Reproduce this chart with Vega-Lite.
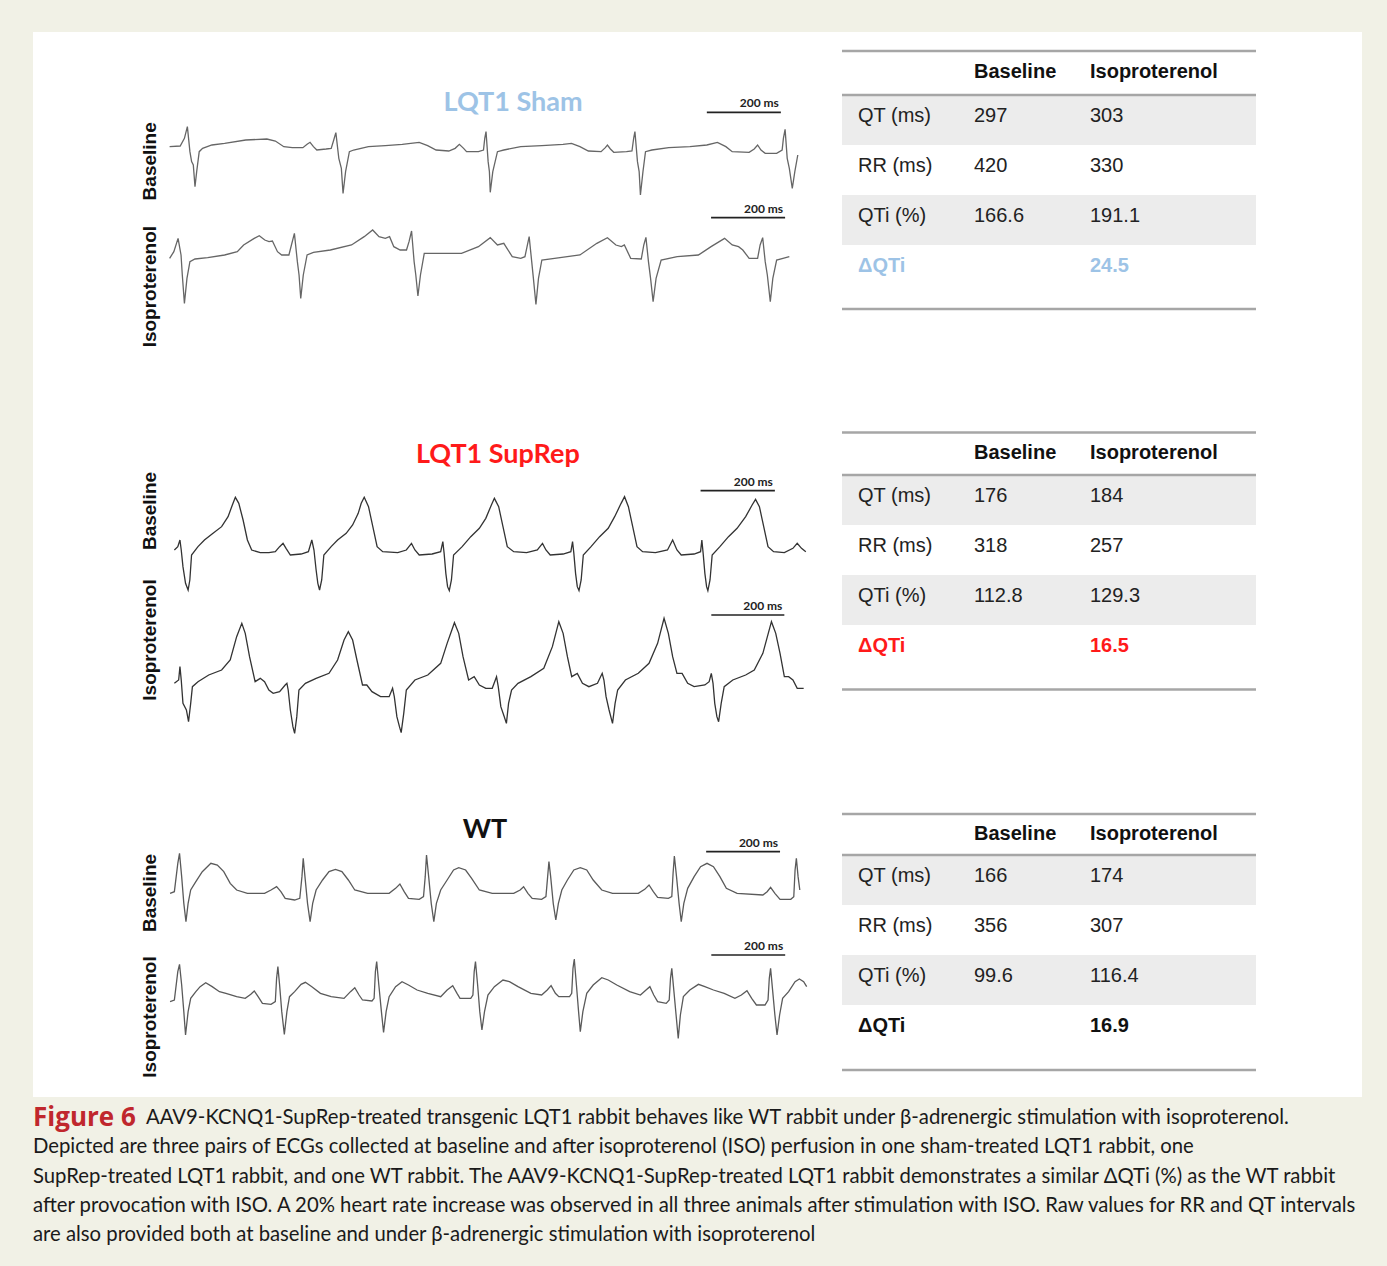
{
"$schema": "https://vega.github.io/schema/vega-lite/v6.json",
"width": 1329, "height": 1065,
"autosize": {"type": "none"},
"padding": {"left": 33, "top": 32, "right": 25, "bottom": 169},
"background": "#f1f1e6",
"config": {"view": {"fill": "#ffffff", "stroke": null}},
"datasets": {
"sham_baseline": [{"t":70,"v":0},{"t":95,"v":2},{"t":105,"v":25},{"t":112,"v":60},{"t":118,"v":-15},{"t":122,"v":-45},{"t":126,"v":-55},{"t":130,"v":-120},{"t":134,"v":-75},{"t":140,"v":-15},{"t":148,"v":-5},{"t":170,"v":5},{"t":200,"v":10},{"t":250,"v":20},{"t":300,"v":23},{"t":320,"v":17},{"t":340,"v":0},{"t":360,"v":-3},{"t":385,"v":-3},{"t":395,"v":7},{"t":402,"v":13},{"t":410,"v":0},{"t":418,"v":-10},{"t":440,"v":-7},{"t":452,"v":-5},{"t":458,"v":20},{"t":463,"v":42},{"t":470,"v":-35},{"t":476,"v":-65},{"t":480,"v":-140},{"t":486,"v":-75},{"t":495,"v":-15},{"t":505,"v":-10},{"t":540,"v":0},{"t":580,"v":3},{"t":620,"v":7},{"t":660,"v":13},{"t":680,"v":3},{"t":700,"v":-10},{"t":730,"v":-13},{"t":745,"v":-5},{"t":755,"v":7},{"t":765,"v":-5},{"t":772,"v":-15},{"t":800,"v":-15},{"t":812,"v":-10},{"t":815,"v":25},{"t":818,"v":45},{"t":823,"v":-45},{"t":826,"v":-75},{"t":828,"v":-137},{"t":834,"v":-75},{"t":845,"v":-15},{"t":860,"v":-10},{"t":900,"v":0},{"t":950,"v":3},{"t":1000,"v":7},{"t":1020,"v":10},{"t":1040,"v":0},{"t":1060,"v":-13},{"t":1090,"v":-15},{"t":1100,"v":-3},{"t":1105,"v":5},{"t":1112,"v":-7},{"t":1120,"v":-17},{"t":1150,"v":-15},{"t":1163,"v":-13},{"t":1167,"v":25},{"t":1170,"v":45},{"t":1176,"v":-45},{"t":1180,"v":-75},{"t":1183,"v":-145},{"t":1189,"v":-75},{"t":1195,"v":-15},{"t":1210,"v":-10},{"t":1250,"v":-3},{"t":1300,"v":0},{"t":1340,"v":5},{"t":1365,"v":13},{"t":1385,"v":0},{"t":1400,"v":-15},{"t":1440,"v":-17},{"t":1452,"v":-7},{"t":1460,"v":5},{"t":1468,"v":-10},{"t":1478,"v":-20},{"t":1505,"v":-20},{"t":1518,"v":-10},{"t":1521,"v":25},{"t":1525,"v":52},{"t":1530,"v":-35},{"t":1535,"v":-65},{"t":1542,"v":-125},{"t":1548,"v":-75},{"t":1555,"v":-25}],
"sham_iso": [{"t":70,"v":0},{"t":80,"v":20},{"t":90,"v":60},{"t":97,"v":10},{"t":100,"v":-50},{"t":105,"v":-135},{"t":111,"v":-60},{"t":118,"v":-10},{"t":130,"v":-2},{"t":160,"v":2},{"t":200,"v":10},{"t":230,"v":20},{"t":245,"v":40},{"t":270,"v":60},{"t":282,"v":68},{"t":295,"v":55},{"t":305,"v":50},{"t":313,"v":52},{"t":325,"v":20},{"t":335,"v":10},{"t":352,"v":10},{"t":358,"v":40},{"t":365,"v":75},{"t":372,"v":-10},{"t":376,"v":-50},{"t":380,"v":-120},{"t":386,"v":-50},{"t":395,"v":10},{"t":410,"v":18},{"t":450,"v":25},{"t":500,"v":40},{"t":530,"v":65},{"t":550,"v":85},{"t":565,"v":65},{"t":580,"v":60},{"t":590,"v":65},{"t":600,"v":35},{"t":615,"v":25},{"t":630,"v":25},{"t":636,"v":50},{"t":642,"v":82},{"t":648,"v":-10},{"t":652,"v":-50},{"t":657,"v":-113},{"t":663,"v":-50},{"t":672,"v":15},{"t":700,"v":15},{"t":760,"v":15},{"t":800,"v":35},{"t":828,"v":62},{"t":845,"v":40},{"t":860,"v":45},{"t":880,"v":5},{"t":900,"v":0},{"t":910,"v":5},{"t":915,"v":35},{"t":920,"v":65},{"t":926,"v":-10},{"t":930,"v":-60},{"t":936,"v":-138},{"t":942,"v":-60},{"t":950,"v":-5},{"t":980,"v":0},{"t":1040,"v":10},{"t":1080,"v":45},{"t":1105,"v":62},{"t":1125,"v":40},{"t":1138,"v":35},{"t":1145,"v":40},{"t":1160,"v":0},{"t":1185,"v":-2},{"t":1191,"v":40},{"t":1196,"v":63},{"t":1202,"v":-10},{"t":1207,"v":-60},{"t":1213,"v":-130},{"t":1220,"v":-60},{"t":1232,"v":-5},{"t":1270,"v":5},{"t":1320,"v":10},{"t":1350,"v":35},{"t":1382,"v":60},{"t":1400,"v":40},{"t":1415,"v":35},{"t":1425,"v":25},{"t":1440,"v":0},{"t":1460,"v":0},{"t":1466,"v":40},{"t":1472,"v":62},{"t":1478,"v":-10},{"t":1483,"v":-50},{"t":1490,"v":-130},{"t":1496,"v":-60},{"t":1505,"v":-5},{"t":1520,"v":0},{"t":1535,"v":5}],
"suprep_baseline": [{"t":80,"v":5},{"t":88,"v":15},{"t":93,"v":35},{"t":96,"v":5},{"t":100,"v":-45},{"t":106,"v":-95},{"t":112,"v":-115},{"t":116,"v":-85},{"t":120,"v":-10},{"t":135,"v":15},{"t":150,"v":35},{"t":170,"v":55},{"t":190,"v":75},{"t":205,"v":105},{"t":215,"v":140},{"t":222,"v":163},{"t":230,"v":145},{"t":240,"v":95},{"t":250,"v":35},{"t":260,"v":5},{"t":280,"v":-3},{"t":300,"v":-3},{"t":315,"v":0},{"t":325,"v":15},{"t":333,"v":25},{"t":340,"v":10},{"t":350,"v":-10},{"t":375,"v":-7},{"t":392,"v":0},{"t":400,"v":35},{"t":405,"v":5},{"t":410,"v":-55},{"t":414,"v":-95},{"t":418,"v":-115},{"t":423,"v":-85},{"t":428,"v":-10},{"t":445,"v":15},{"t":460,"v":35},{"t":480,"v":55},{"t":495,"v":80},{"t":508,"v":115},{"t":515,"v":145},{"t":522,"v":163},{"t":532,"v":135},{"t":542,"v":75},{"t":552,"v":15},{"t":565,"v":0},{"t":600,"v":-3},{"t":620,"v":5},{"t":632,"v":25},{"t":640,"v":5},{"t":650,"v":-10},{"t":680,"v":-7},{"t":700,"v":0},{"t":705,"v":30},{"t":708,"v":-5},{"t":712,"v":-65},{"t":716,"v":-105},{"t":720,"v":-117},{"t":725,"v":-85},{"t":730,"v":-10},{"t":750,"v":15},{"t":770,"v":45},{"t":790,"v":70},{"t":805,"v":100},{"t":818,"v":140},{"t":825,"v":160},{"t":835,"v":135},{"t":845,"v":75},{"t":855,"v":15},{"t":870,"v":0},{"t":900,"v":-3},{"t":925,"v":5},{"t":937,"v":25},{"t":945,"v":5},{"t":955,"v":-10},{"t":985,"v":-7},{"t":1003,"v":0},{"t":1007,"v":30},{"t":1010,"v":-5},{"t":1014,"v":-65},{"t":1018,"v":-105},{"t":1022,"v":-117},{"t":1027,"v":-85},{"t":1032,"v":-10},{"t":1050,"v":15},{"t":1070,"v":45},{"t":1090,"v":70},{"t":1105,"v":105},{"t":1120,"v":145},{"t":1128,"v":165},{"t":1137,"v":135},{"t":1147,"v":75},{"t":1157,"v":15},{"t":1170,"v":0},{"t":1200,"v":-3},{"t":1228,"v":5},{"t":1240,"v":35},{"t":1250,"v":5},{"t":1260,"v":-10},{"t":1290,"v":-7},{"t":1305,"v":0},{"t":1308,"v":35},{"t":1311,"v":-5},{"t":1315,"v":-65},{"t":1319,"v":-105},{"t":1322,"v":-117},{"t":1327,"v":-85},{"t":1332,"v":-10},{"t":1350,"v":15},{"t":1370,"v":45},{"t":1390,"v":70},{"t":1410,"v":105},{"t":1425,"v":140},{"t":1433,"v":157},{"t":1442,"v":135},{"t":1452,"v":75},{"t":1462,"v":15},{"t":1475,"v":0},{"t":1500,"v":-3},{"t":1520,"v":10},{"t":1530,"v":25},{"t":1540,"v":10},{"t":1550,"v":0}],
"suprep_iso": [{"t":80,"v":0},{"t":90,"v":10},{"t":93,"v":50},{"t":96,"v":10},{"t":100,"v":-60},{"t":108,"v":-80},{"t":113,"v":-115},{"t":118,"v":-60},{"t":122,"v":-10},{"t":135,"v":5},{"t":160,"v":25},{"t":190,"v":40},{"t":210,"v":70},{"t":225,"v":140},{"t":237,"v":180},{"t":245,"v":150},{"t":255,"v":80},{"t":268,"v":5},{"t":280,"v":15},{"t":290,"v":5},{"t":300,"v":-20},{"t":310,"v":-30},{"t":325,"v":-25},{"t":338,"v":-5},{"t":342,"v":0},{"t":345,"v":-20},{"t":350,"v":-80},{"t":356,"v":-130},{"t":360,"v":-150},{"t":365,"v":-100},{"t":370,"v":-20},{"t":385,"v":0},{"t":410,"v":15},{"t":440,"v":30},{"t":460,"v":70},{"t":475,"v":130},{"t":485,"v":155},{"t":495,"v":130},{"t":505,"v":70},{"t":518,"v":-5},{"t":528,"v":-5},{"t":540,"v":-25},{"t":560,"v":-40},{"t":580,"v":-40},{"t":588,"v":-15},{"t":592,"v":-40},{"t":598,"v":-100},{"t":604,"v":-130},{"t":608,"v":-148},{"t":614,"v":-90},{"t":620,"v":-20},{"t":640,"v":10},{"t":670,"v":25},{"t":700,"v":60},{"t":715,"v":120},{"t":732,"v":182},{"t":742,"v":150},{"t":752,"v":80},{"t":765,"v":10},{"t":778,"v":20},{"t":790,"v":-5},{"t":805,"v":-15},{"t":820,"v":-15},{"t":830,"v":20},{"t":834,"v":-10},{"t":840,"v":-70},{"t":848,"v":-100},{"t":853,"v":-120},{"t":858,"v":-60},{"t":865,"v":-20},{"t":880,"v":0},{"t":910,"v":20},{"t":940,"v":45},{"t":960,"v":110},{"t":975,"v":185},{"t":985,"v":150},{"t":995,"v":80},{"t":1005,"v":20},{"t":1018,"v":30},{"t":1030,"v":0},{"t":1045,"v":-10},{"t":1065,"v":0},{"t":1076,"v":30},{"t":1080,"v":10},{"t":1085,"v":-40},{"t":1092,"v":-80},{"t":1100,"v":-120},{"t":1106,"v":-60},{"t":1112,"v":-20},{"t":1130,"v":10},{"t":1160,"v":30},{"t":1185,"v":60},{"t":1205,"v":120},{"t":1220,"v":195},{"t":1230,"v":150},{"t":1240,"v":80},{"t":1250,"v":30},{"t":1262,"v":30},{"t":1275,"v":0},{"t":1290,"v":-10},{"t":1315,"v":-5},{"t":1325,"v":5},{"t":1330,"v":30},{"t":1334,"v":0},{"t":1338,"v":-60},{"t":1343,"v":-100},{"t":1347,"v":-115},{"t":1353,"v":-60},{"t":1360,"v":-10},{"t":1380,"v":10},{"t":1410,"v":25},{"t":1430,"v":40},{"t":1450,"v":90},{"t":1470,"v":185},{"t":1480,"v":150},{"t":1490,"v":90},{"t":1500,"v":20},{"t":1510,"v":20},{"t":1520,"v":10},{"t":1530,"v":-15},{"t":1545,"v":-15}],
"wt_baseline": [{"t":70,"v":0},{"t":80,"v":5},{"t":88,"v":90},{"t":92,"v":120},{"t":97,"v":50},{"t":102,"v":-30},{"t":107,"v":-85},{"t":112,"v":-30},{"t":118,"v":10},{"t":130,"v":35},{"t":145,"v":65},{"t":165,"v":90},{"t":180,"v":85},{"t":195,"v":65},{"t":210,"v":30},{"t":225,"v":10},{"t":250,"v":0},{"t":290,"v":0},{"t":305,"v":10},{"t":318,"v":20},{"t":328,"v":5},{"t":338,"v":-15},{"t":360,"v":-20},{"t":372,"v":-15},{"t":377,"v":50},{"t":380,"v":105},{"t":384,"v":50},{"t":390,"v":-30},{"t":396,"v":-85},{"t":402,"v":-30},{"t":410,"v":10},{"t":425,"v":40},{"t":440,"v":65},{"t":455,"v":72},{"t":470,"v":65},{"t":485,"v":40},{"t":500,"v":10},{"t":530,"v":0},{"t":580,"v":0},{"t":595,"v":15},{"t":605,"v":28},{"t":615,"v":5},{"t":625,"v":-15},{"t":650,"v":-18},{"t":660,"v":-10},{"t":664,"v":50},{"t":667,"v":115},{"t":672,"v":50},{"t":678,"v":-30},{"t":684,"v":-85},{"t":690,"v":-30},{"t":700,"v":10},{"t":715,"v":40},{"t":730,"v":70},{"t":742,"v":77},{"t":758,"v":70},{"t":772,"v":45},{"t":790,"v":10},{"t":820,"v":0},{"t":870,"v":0},{"t":885,"v":10},{"t":893,"v":20},{"t":903,"v":0},{"t":913,"v":-15},{"t":935,"v":-18},{"t":945,"v":-10},{"t":949,"v":50},{"t":952,"v":95},{"t":956,"v":50},{"t":962,"v":-30},{"t":968,"v":-80},{"t":974,"v":-30},{"t":982,"v":10},{"t":995,"v":40},{"t":1010,"v":70},{"t":1025,"v":77},{"t":1040,"v":70},{"t":1055,"v":40},{"t":1075,"v":10},{"t":1100,"v":0},{"t":1160,"v":0},{"t":1175,"v":12},{"t":1185,"v":25},{"t":1195,"v":5},{"t":1205,"v":-12},{"t":1230,"v":-15},{"t":1238,"v":-10},{"t":1241,"v":60},{"t":1244,"v":112},{"t":1249,"v":50},{"t":1255,"v":-30},{"t":1260,"v":-85},{"t":1266,"v":-30},{"t":1275,"v":15},{"t":1290,"v":50},{"t":1305,"v":80},{"t":1320,"v":90},{"t":1335,"v":80},{"t":1350,"v":50},{"t":1365,"v":15},{"t":1390,"v":0},{"t":1450,"v":-5},{"t":1460,"v":5},{"t":1468,"v":18},{"t":1478,"v":0},{"t":1490,"v":-18},{"t":1515,"v":-18},{"t":1522,"v":-10},{"t":1525,"v":70},{"t":1528,"v":105},{"t":1532,"v":50},{"t":1536,"v":10}],
"wt_iso": [{"t":70,"v":-5},{"t":80,"v":0},{"t":88,"v":85},{"t":92,"v":107},{"t":97,"v":45},{"t":102,"v":-35},{"t":106,"v":-105},{"t":112,"v":-35},{"t":118,"v":5},{"t":130,"v":25},{"t":140,"v":40},{"t":153,"v":52},{"t":168,"v":40},{"t":185,"v":25},{"t":200,"v":20},{"t":225,"v":10},{"t":245,"v":5},{"t":258,"v":17},{"t":266,"v":27},{"t":275,"v":10},{"t":285,"v":-10},{"t":305,"v":-13},{"t":315,"v":-5},{"t":318,"v":65},{"t":321,"v":100},{"t":325,"v":45},{"t":330,"v":-35},{"t":336,"v":-103},{"t":342,"v":-35},{"t":348,"v":10},{"t":360,"v":25},{"t":375,"v":47},{"t":385,"v":53},{"t":400,"v":40},{"t":420,"v":20},{"t":445,"v":10},{"t":475,"v":5},{"t":490,"v":25},{"t":500,"v":37},{"t":510,"v":15},{"t":518,"v":0},{"t":540,"v":-3},{"t":545,"v":5},{"t":548,"v":85},{"t":551,"v":115},{"t":556,"v":45},{"t":562,"v":-35},{"t":567,"v":-97},{"t":573,"v":-35},{"t":580,"v":10},{"t":595,"v":40},{"t":610,"v":55},{"t":625,"v":45},{"t":645,"v":30},{"t":670,"v":20},{"t":700,"v":10},{"t":715,"v":30},{"t":728,"v":43},{"t":738,"v":20},{"t":745,"v":5},{"t":770,"v":5},{"t":775,"v":15},{"t":778,"v":85},{"t":781,"v":115},{"t":786,"v":45},{"t":791,"v":-35},{"t":796,"v":-90},{"t":802,"v":-35},{"t":810,"v":15},{"t":825,"v":40},{"t":845,"v":60},{"t":860,"v":55},{"t":880,"v":40},{"t":910,"v":20},{"t":935,"v":15},{"t":948,"v":30},{"t":957,"v":43},{"t":967,"v":20},{"t":975,"v":10},{"t":1000,"v":10},{"t":1005,"v":20},{"t":1008,"v":95},{"t":1011,"v":123},{"t":1016,"v":45},{"t":1021,"v":-35},{"t":1025,"v":-95},{"t":1031,"v":-35},{"t":1040,"v":20},{"t":1055,"v":45},{"t":1075,"v":67},{"t":1090,"v":60},{"t":1110,"v":45},{"t":1140,"v":25},{"t":1165,"v":15},{"t":1178,"v":30},{"t":1187,"v":40},{"t":1196,"v":15},{"t":1205,"v":-5},{"t":1225,"v":-10},{"t":1232,"v":0},{"t":1235,"v":65},{"t":1238,"v":95},{"t":1243,"v":25},{"t":1248,"v":-45},{"t":1253,"v":-115},{"t":1258,"v":-45},{"t":1265,"v":10},{"t":1280,"v":30},{"t":1300,"v":47},{"t":1315,"v":40},{"t":1335,"v":30},{"t":1360,"v":20},{"t":1385,"v":5},{"t":1400,"v":15},{"t":1413,"v":28},{"t":1424,"v":5},{"t":1435,"v":-15},{"t":1455,"v":-15},{"t":1462,"v":0},{"t":1465,"v":65},{"t":1468,"v":95},{"t":1473,"v":25},{"t":1478,"v":-45},{"t":1483,"v":-105},{"t":1489,"v":-45},{"t":1496,"v":5},{"t":1510,"v":25},{"t":1525,"v":55},{"t":1535,"v":63},{"t":1545,"v":55},{"t":1552,"v":40}],
"bars": [
{"trace":"sham_baseline","t0":1340,"t1":1515,"v":103,"label":"200 ms"},
{"trace":"sham_iso","t0":1350,"t1":1525,"v":122,"label":"200 ms"},
{"trace":"suprep_baseline","t0":1305,"t1":1478,"v":183,"label":"200 ms"},
{"trace":"suprep_iso","t0":1330,"t1":1500,"v":205,"label":"200 ms"},
{"trace":"wt_baseline","t0":1318,"t1":1490,"v":125,"label":"200 ms"},
{"trace":"wt_iso","t0":1330,"t1":1502,"v":135,"label":"200 ms"}],
"tables": [{"table":"LQT1 Sham"},{"table":"LQT1 SupRep"},{"table":"WT"}],
"cells": [
{"table":"LQT1 Sham","row":"header","col":"baseline","text":"Baseline"},
{"table":"LQT1 Sham","row":"header","col":"iso","text":"Isoproterenol"},
{"table":"LQT1 Sham","row":"QT","col":"label","text":"QT (ms)"},
{"table":"LQT1 Sham","row":"QT","col":"baseline","text":"297"},
{"table":"LQT1 Sham","row":"QT","col":"iso","text":"303"},
{"table":"LQT1 Sham","row":"RR","col":"label","text":"RR (ms)"},
{"table":"LQT1 Sham","row":"RR","col":"baseline","text":"420"},
{"table":"LQT1 Sham","row":"RR","col":"iso","text":"330"},
{"table":"LQT1 Sham","row":"QTi","col":"label","text":"QTi (%)"},
{"table":"LQT1 Sham","row":"QTi","col":"baseline","text":"166.6"},
{"table":"LQT1 Sham","row":"QTi","col":"iso","text":"191.1"},
{"table":"LQT1 Sham","row":"dQTi","col":"label","text":"ΔQTi"},
{"table":"LQT1 Sham","row":"dQTi","col":"iso","text":"24.5"},
{"table":"LQT1 SupRep","row":"header","col":"baseline","text":"Baseline"},
{"table":"LQT1 SupRep","row":"header","col":"iso","text":"Isoproterenol"},
{"table":"LQT1 SupRep","row":"QT","col":"label","text":"QT (ms)"},
{"table":"LQT1 SupRep","row":"QT","col":"baseline","text":"176"},
{"table":"LQT1 SupRep","row":"QT","col":"iso","text":"184"},
{"table":"LQT1 SupRep","row":"RR","col":"label","text":"RR (ms)"},
{"table":"LQT1 SupRep","row":"RR","col":"baseline","text":"318"},
{"table":"LQT1 SupRep","row":"RR","col":"iso","text":"257"},
{"table":"LQT1 SupRep","row":"QTi","col":"label","text":"QTi (%)"},
{"table":"LQT1 SupRep","row":"QTi","col":"baseline","text":"112.8"},
{"table":"LQT1 SupRep","row":"QTi","col":"iso","text":"129.3"},
{"table":"LQT1 SupRep","row":"dQTi","col":"label","text":"ΔQTi"},
{"table":"LQT1 SupRep","row":"dQTi","col":"iso","text":"16.5"},
{"table":"WT","row":"header","col":"baseline","text":"Baseline"},
{"table":"WT","row":"header","col":"iso","text":"Isoproterenol"},
{"table":"WT","row":"QT","col":"label","text":"QT (ms)"},
{"table":"WT","row":"QT","col":"baseline","text":"166"},
{"table":"WT","row":"QT","col":"iso","text":"174"},
{"table":"WT","row":"RR","col":"label","text":"RR (ms)"},
{"table":"WT","row":"RR","col":"baseline","text":"356"},
{"table":"WT","row":"RR","col":"iso","text":"307"},
{"table":"WT","row":"QTi","col":"label","text":"QTi (%)"},
{"table":"WT","row":"QTi","col":"baseline","text":"99.6"},
{"table":"WT","row":"QTi","col":"iso","text":"116.4"},
{"table":"WT","row":"dQTi","col":"label","text":"ΔQTi"},
{"table":"WT","row":"dQTi","col":"iso","text":"16.9"}],
"caption": [
{"line":1,"style":"label","start":"margin","text":"Figure 6"},
{"line":1,"style":"body","start":"after label","text":"AAV9-KCNQ1-SupRep-treated transgenic LQT1 rabbit behaves like WT rabbit under β-adrenergic stimulation with isoproterenol."},
{"line":2,"style":"body","start":"margin","text":"Depicted are three pairs of ECGs collected at baseline and after isoproterenol (ISO) perfusion in one sham-treated LQT1 rabbit, one"},
{"line":3,"style":"body","start":"margin","text":"SupRep-treated LQT1 rabbit, and one WT rabbit. The AAV9-KCNQ1-SupRep-treated LQT1 rabbit demonstrates a similar ΔQTi (%) as the WT rabbit"},
{"line":4,"style":"body","start":"margin","text":"after provocation with ISO. A 20% heart rate increase was observed in all three animals after stimulation with ISO. Raw values for RR and QT intervals"},
{"line":5,"style":"body","start":"margin","text":"are also provided both at baseline and under β-adrenergic stimulation with isoproterenol"}]
},
"resolve": {"scale": {"x": "independent", "y": "independent", "color": "independent"}},
"layer": [
{"data":{"name":"tables"},"mark":{"type":"rule","color":"#ececec","strokeWidth":50},
 "encoding":{"x":{"datum":0,"type":"quantitative","scale":{"domain":[0,1],"range":[809,1223],"nice":false,"zero":false},"axis":null},"x2":{"datum":1},
 "y":{"field":"table","type":"nominal","scale":{"type":"point","domain":["LQT1 Sham","LQT1 SupRep","WT"],"range":[88,848],"padding":0},"axis":null}}},
{"data":{"name":"tables"},"mark":{"type":"rule","color":"#ececec","strokeWidth":50},
 "encoding":{"x":{"datum":0,"type":"quantitative","scale":{"domain":[0,1],"range":[809,1223],"nice":false,"zero":false},"axis":null},"x2":{"datum":1},
 "y":{"field":"table","type":"nominal","scale":{"type":"point","domain":["LQT1 Sham","LQT1 SupRep","WT"],"range":[188,948],"padding":0},"axis":null}}},
{"data":{"name":"tables"},"mark":{"type":"rule","color":"#a6a6a6","strokeWidth":2.5},
 "encoding":{"x":{"datum":0,"type":"quantitative","scale":{"domain":[0,1],"range":[809,1223],"nice":false,"zero":false},"axis":null},"x2":{"datum":1},
 "y":{"field":"table","type":"nominal","scale":{"type":"point","domain":["LQT1 Sham","LQT1 SupRep","WT"],"range":[19,782],"padding":0},"axis":null}}},
{"data":{"name":"tables"},"mark":{"type":"rule","color":"#a6a6a6","strokeWidth":2.5},
 "encoding":{"x":{"datum":0,"type":"quantitative","scale":{"domain":[0,1],"range":[809,1223],"nice":false,"zero":false},"axis":null},"x2":{"datum":1},
 "y":{"field":"table","type":"nominal","scale":{"type":"point","domain":["LQT1 Sham","LQT1 SupRep","WT"],"range":[63,823],"padding":0},"axis":null}}},
{"data":{"name":"tables"},"mark":{"type":"rule","color":"#a6a6a6","strokeWidth":2.5},
 "encoding":{"x":{"datum":0,"type":"quantitative","scale":{"domain":[0,1],"range":[809,1223],"nice":false,"zero":false},"axis":null},"x2":{"datum":1},
 "y":{"field":"table","type":"nominal","scale":{"type":"point","domain":["LQT1 Sham","LQT1 SupRep","WT"],"range":[277,1038],"padding":0},"axis":null}}},
{"data":{"name":"cells"},"transform":[{"filter":"datum.row === 'header'"}],
 "mark":{"type":"text","align":"left","baseline":"middle","font":"Liberation Sans","fontSize":20,"fontWeight":"bold","color":"#111111"},
 "encoding":{"x":{"field":"col","type":"nominal","scale":{"type":"point","domain":["label","baseline","iso"],"range":[825,1057],"padding":0},"axis":null},
 "y":{"field":"table","type":"nominal","scale":{"type":"point","domain":["LQT1 Sham","LQT1 SupRep","WT"],"range":[40,802],"padding":0},"axis":null},"text":{"field":"text"}}},
{"data":{"name":"cells"},"transform":[{"filter":"datum.row === 'QT'"}],
 "mark":{"type":"text","align":"left","baseline":"middle","font":"Liberation Sans","fontSize":20,"color":"#222222"},
 "encoding":{"x":{"field":"col","type":"nominal","scale":{"type":"point","domain":["label","baseline","iso"],"range":[825,1057],"padding":0},"axis":null},
 "y":{"field":"table","type":"nominal","scale":{"type":"point","domain":["LQT1 Sham","LQT1 SupRep","WT"],"range":[84,844],"padding":0},"axis":null},"text":{"field":"text"}}},
{"data":{"name":"cells"},"transform":[{"filter":"datum.row === 'RR'"}],
 "mark":{"type":"text","align":"left","baseline":"middle","font":"Liberation Sans","fontSize":20,"color":"#222222"},
 "encoding":{"x":{"field":"col","type":"nominal","scale":{"type":"point","domain":["label","baseline","iso"],"range":[825,1057],"padding":0},"axis":null},
 "y":{"field":"table","type":"nominal","scale":{"type":"point","domain":["LQT1 Sham","LQT1 SupRep","WT"],"range":[134,894],"padding":0},"axis":null},"text":{"field":"text"}}},
{"data":{"name":"cells"},"transform":[{"filter":"datum.row === 'QTi'"}],
 "mark":{"type":"text","align":"left","baseline":"middle","font":"Liberation Sans","fontSize":20,"color":"#222222"},
 "encoding":{"x":{"field":"col","type":"nominal","scale":{"type":"point","domain":["label","baseline","iso"],"range":[825,1057],"padding":0},"axis":null},
 "y":{"field":"table","type":"nominal","scale":{"type":"point","domain":["LQT1 Sham","LQT1 SupRep","WT"],"range":[184,944],"padding":0},"axis":null},"text":{"field":"text"}}},
{"data":{"name":"cells"},"transform":[{"filter":"datum.row === 'dQTi'"}],
 "mark":{"type":"text","align":"left","baseline":"middle","font":"Liberation Sans","fontSize":20,"fontWeight":"bold"},
 "encoding":{"x":{"field":"col","type":"nominal","scale":{"type":"point","domain":["label","baseline","iso"],"range":[825,1057],"padding":0},"axis":null},
 "y":{"field":"table","type":"nominal","scale":{"type":"point","domain":["LQT1 Sham","LQT1 SupRep","WT"],"range":[234,994],"padding":0},"axis":null},
 "color":{"field":"table","type":"nominal","scale":{"domain":["LQT1 Sham","LQT1 SupRep","WT"],"range":["#9dc3e6","#ff1a1a","#111111"]},"legend":null},
 "text":{"field":"text"}}},

{"data":{"name":"sham_baseline"},"mark":{"type":"line","color":"#666666","strokeWidth":1.3},
 "encoding":{"x":{"field":"t","type":"quantitative","scale":{"domain":[-252.95,2888.8],"nice":false,"zero":false},"axis":null},"y":{"field":"v","type":"quantitative","scale":{"domain":[-2851,344],"nice":false,"zero":false},"axis":null}}},
{"data":{"name":"bars"},"transform":[{"filter":"datum.trace === 'sham_baseline'"}],"mark":{"type":"rule","color":"#222222","strokeWidth":1.6},
 "encoding":{"x":{"field":"t0","type":"quantitative","scale":{"domain":[-252.95,2888.8],"nice":false,"zero":false},"axis":null},"x2":{"field":"t1"},"y":{"field":"v","type":"quantitative","scale":{"domain":[-2851,344],"nice":false,"zero":false},"axis":null}}},
{"data":{"name":"bars"},"transform":[{"filter":"datum.trace === 'sham_baseline'"}],"mark":{"type":"text","align":"right","baseline":"middle","dx":-2,"dy":-9,"font":"Lato","fontWeight":"bold","fontSize":12,"color":"#222222"},
 "encoding":{"x":{"field":"t1","type":"quantitative","scale":{"domain":[-252.95,2888.8],"nice":false,"zero":false},"axis":null},"y":{"field":"v","type":"quantitative","scale":{"domain":[-2851,344],"nice":false,"zero":false},"axis":null},"text":{"field":"label"}}},
{"data":{"values":[{"label":"Baseline"}]},"mark":{"type":"text","angle":270,"align":"center","baseline":"middle","font":"Liberation Sans","fontWeight":"bold","fontSize":19,"color":"#111111"},
 "encoding":{"x":{"datum":24,"type":"quantitative","scale":{"domain":[-252.95,2888.8],"nice":false,"zero":false},"axis":null},"y":{"datum":-44,"type":"quantitative","scale":{"domain":[-2851,344],"nice":false,"zero":false},"axis":null},"text":{"field":"label"}}},
{"data":{"values":[{"label":"LQT1 Sham"}]},"mark":{"type":"text","align":"center","baseline":"middle","font":"Lato","fontWeight":"bold","fontSize":27,"color":"#9dc3e6"},
 "encoding":{"x":{"datum":882,"type":"quantitative","scale":{"domain":[-252.95,2888.8],"nice":false,"zero":false},"axis":null},"y":{"datum":131,"type":"quantitative","scale":{"domain":[-2851,344],"nice":false,"zero":false},"axis":null},"text":{"field":"label"}}},

{"data":{"name":"sham_iso"},"mark":{"type":"line","color":"#666666","strokeWidth":1.3},
 "encoding":{"x":{"field":"t","type":"quantitative","scale":{"domain":[-252.95,2888.8],"nice":false,"zero":false},"axis":null},"y":{"field":"v","type":"quantitative","scale":{"domain":[-2516,679],"nice":false,"zero":false},"axis":null}}},
{"data":{"name":"bars"},"transform":[{"filter":"datum.trace === 'sham_iso'"}],"mark":{"type":"rule","color":"#222222","strokeWidth":1.6},
 "encoding":{"x":{"field":"t0","type":"quantitative","scale":{"domain":[-252.95,2888.8],"nice":false,"zero":false},"axis":null},"x2":{"field":"t1"},"y":{"field":"v","type":"quantitative","scale":{"domain":[-2516,679],"nice":false,"zero":false},"axis":null}}},
{"data":{"name":"bars"},"transform":[{"filter":"datum.trace === 'sham_iso'"}],"mark":{"type":"text","align":"right","baseline":"middle","dx":-2,"dy":-9,"font":"Lato","fontWeight":"bold","fontSize":12,"color":"#222222"},
 "encoding":{"x":{"field":"t1","type":"quantitative","scale":{"domain":[-252.95,2888.8],"nice":false,"zero":false},"axis":null},"y":{"field":"v","type":"quantitative","scale":{"domain":[-2516,679],"nice":false,"zero":false},"axis":null},"text":{"field":"label"}}},
{"data":{"values":[{"label":"Isoproterenol"}]},"mark":{"type":"text","angle":270,"align":"center","baseline":"middle","font":"Liberation Sans","fontWeight":"bold","fontSize":19,"color":"#111111"},
 "encoding":{"x":{"datum":24,"type":"quantitative","scale":{"domain":[-252.95,2888.8],"nice":false,"zero":false},"axis":null},"y":{"datum":-85,"type":"quantitative","scale":{"domain":[-2516,679],"nice":false,"zero":false},"axis":null},"text":{"field":"label"}}},

{"data":{"name":"suprep_baseline"},"mark":{"type":"line","color":"#333333","strokeWidth":1.3},
 "encoding":{"x":{"field":"t","type":"quantitative","scale":{"domain":[-249.1,2844.8],"nice":false,"zero":false},"axis":null},"y":{"field":"v","type":"quantitative","scale":{"domain":[-1636,1559],"nice":false,"zero":false},"axis":null}}},
{"data":{"name":"bars"},"transform":[{"filter":"datum.trace === 'suprep_baseline'"}],"mark":{"type":"rule","color":"#222222","strokeWidth":1.6},
 "encoding":{"x":{"field":"t0","type":"quantitative","scale":{"domain":[-249.1,2844.8],"nice":false,"zero":false},"axis":null},"x2":{"field":"t1"},"y":{"field":"v","type":"quantitative","scale":{"domain":[-1636,1559],"nice":false,"zero":false},"axis":null}}},
{"data":{"name":"bars"},"transform":[{"filter":"datum.trace === 'suprep_baseline'"}],"mark":{"type":"text","align":"right","baseline":"middle","dx":-2,"dy":-9,"font":"Lato","fontWeight":"bold","fontSize":12,"color":"#222222"},
 "encoding":{"x":{"field":"t1","type":"quantitative","scale":{"domain":[-249.1,2844.8],"nice":false,"zero":false},"axis":null},"y":{"field":"v","type":"quantitative","scale":{"domain":[-1636,1559],"nice":false,"zero":false},"axis":null},"text":{"field":"label"}}},
{"data":{"values":[{"label":"Baseline"}]},"mark":{"type":"text","angle":270,"align":"center","baseline":"middle","font":"Liberation Sans","fontWeight":"bold","fontSize":19,"color":"#111111"},
 "encoding":{"x":{"datum":23,"type":"quantitative","scale":{"domain":[-249.1,2844.8],"nice":false,"zero":false},"axis":null},"y":{"datum":122,"type":"quantitative","scale":{"domain":[-1636,1559],"nice":false,"zero":false},"axis":null},"text":{"field":"label"}}},
{"data":{"values":[{"label":"LQT1 SupRep"}]},"mark":{"type":"text","align":"center","baseline":"middle","font":"Lato","fontWeight":"bold","fontSize":27,"color":"#ff1a1a"},
 "encoding":{"x":{"datum":833,"type":"quantitative","scale":{"domain":[-249.1,2844.8],"nice":false,"zero":false},"axis":null},"y":{"datum":290,"type":"quantitative","scale":{"domain":[-1636,1559],"nice":false,"zero":false},"axis":null},"text":{"field":"label"}}},

{"data":{"name":"suprep_iso"},"mark":{"type":"line","color":"#333333","strokeWidth":1.3},
 "encoding":{"x":{"field":"t","type":"quantitative","scale":{"domain":[-249.1,2844.8],"nice":false,"zero":false},"axis":null},"y":{"field":"v","type":"quantitative","scale":{"domain":[-1241,1954],"nice":false,"zero":false},"axis":null}}},
{"data":{"name":"bars"},"transform":[{"filter":"datum.trace === 'suprep_iso'"}],"mark":{"type":"rule","color":"#222222","strokeWidth":1.6},
 "encoding":{"x":{"field":"t0","type":"quantitative","scale":{"domain":[-249.1,2844.8],"nice":false,"zero":false},"axis":null},"x2":{"field":"t1"},"y":{"field":"v","type":"quantitative","scale":{"domain":[-1241,1954],"nice":false,"zero":false},"axis":null}}},
{"data":{"name":"bars"},"transform":[{"filter":"datum.trace === 'suprep_iso'"}],"mark":{"type":"text","align":"right","baseline":"middle","dx":-2,"dy":-9,"font":"Lato","fontWeight":"bold","fontSize":12,"color":"#222222"},
 "encoding":{"x":{"field":"t1","type":"quantitative","scale":{"domain":[-249.1,2844.8],"nice":false,"zero":false},"axis":null},"y":{"field":"v","type":"quantitative","scale":{"domain":[-1241,1954],"nice":false,"zero":false},"axis":null},"text":{"field":"label"}}},
{"data":{"values":[{"label":"Isoproterenol"}]},"mark":{"type":"text","angle":270,"align":"center","baseline":"middle","font":"Liberation Sans","fontWeight":"bold","fontSize":19,"color":"#111111"},
 "encoding":{"x":{"datum":23,"type":"quantitative","scale":{"domain":[-249.1,2844.8],"nice":false,"zero":false},"axis":null},"y":{"datum":130,"type":"quantitative","scale":{"domain":[-1241,1954],"nice":false,"zero":false},"axis":null},"text":{"field":"label"}}},

{"data":{"name":"wt_baseline"},"mark":{"type":"line","color":"#5a5a5a","strokeWidth":1.3},
 "encoding":{"x":{"field":"t","type":"quantitative","scale":{"domain":[-249.1,2844.8],"nice":false,"zero":false},"axis":null},"y":{"field":"v","type":"quantitative","scale":{"domain":[-611,2584],"nice":false,"zero":false},"axis":null}}},
{"data":{"name":"bars"},"transform":[{"filter":"datum.trace === 'wt_baseline'"}],"mark":{"type":"rule","color":"#222222","strokeWidth":1.6},
 "encoding":{"x":{"field":"t0","type":"quantitative","scale":{"domain":[-249.1,2844.8],"nice":false,"zero":false},"axis":null},"x2":{"field":"t1"},"y":{"field":"v","type":"quantitative","scale":{"domain":[-611,2584],"nice":false,"zero":false},"axis":null}}},
{"data":{"name":"bars"},"transform":[{"filter":"datum.trace === 'wt_baseline'"}],"mark":{"type":"text","align":"right","baseline":"middle","dx":-2,"dy":-9,"font":"Lato","fontWeight":"bold","fontSize":12,"color":"#222222"},
 "encoding":{"x":{"field":"t1","type":"quantitative","scale":{"domain":[-249.1,2844.8],"nice":false,"zero":false},"axis":null},"y":{"field":"v","type":"quantitative","scale":{"domain":[-611,2584],"nice":false,"zero":false},"axis":null},"text":{"field":"label"}}},
{"data":{"values":[{"label":"Baseline"}]},"mark":{"type":"text","angle":270,"align":"center","baseline":"middle","font":"Liberation Sans","fontWeight":"bold","fontSize":19,"color":"#111111"},
 "encoding":{"x":{"datum":23,"type":"quantitative","scale":{"domain":[-249.1,2844.8],"nice":false,"zero":false},"axis":null},"y":{"datum":1,"type":"quantitative","scale":{"domain":[-611,2584],"nice":false,"zero":false},"axis":null},"text":{"field":"label"}}},
{"data":{"values":[{"label":"WT"}]},"mark":{"type":"text","align":"center","baseline":"middle","font":"Lato","fontWeight":"bold","fontSize":27,"color":"#111111"},
 "encoding":{"x":{"datum":803,"type":"quantitative","scale":{"domain":[-249.1,2844.8],"nice":false,"zero":false},"axis":null},"y":{"datum":190,"type":"quantitative","scale":{"domain":[-611,2584],"nice":false,"zero":false},"axis":null},"text":{"field":"label"}}},

{"data":{"name":"wt_iso"},"mark":{"type":"line","color":"#5a5a5a","strokeWidth":1.3},
 "encoding":{"x":{"field":"t","type":"quantitative","scale":{"domain":[-249.1,2844.8],"nice":false,"zero":false},"axis":null},"y":{"field":"v","type":"quantitative","scale":{"domain":[-291,2904],"nice":false,"zero":false},"axis":null}}},
{"data":{"name":"bars"},"transform":[{"filter":"datum.trace === 'wt_iso'"}],"mark":{"type":"rule","color":"#222222","strokeWidth":1.6},
 "encoding":{"x":{"field":"t0","type":"quantitative","scale":{"domain":[-249.1,2844.8],"nice":false,"zero":false},"axis":null},"x2":{"field":"t1"},"y":{"field":"v","type":"quantitative","scale":{"domain":[-291,2904],"nice":false,"zero":false},"axis":null}}},
{"data":{"name":"bars"},"transform":[{"filter":"datum.trace === 'wt_iso'"}],"mark":{"type":"text","align":"right","baseline":"middle","dx":-2,"dy":-9,"font":"Lato","fontWeight":"bold","fontSize":12,"color":"#222222"},
 "encoding":{"x":{"field":"t1","type":"quantitative","scale":{"domain":[-249.1,2844.8],"nice":false,"zero":false},"axis":null},"y":{"field":"v","type":"quantitative","scale":{"domain":[-291,2904],"nice":false,"zero":false},"axis":null},"text":{"field":"label"}}},
{"data":{"values":[{"label":"Isoproterenol"}]},"mark":{"type":"text","angle":270,"align":"center","baseline":"middle","font":"Liberation Sans","fontWeight":"bold","fontSize":19,"color":"#111111"},
 "encoding":{"x":{"datum":23,"type":"quantitative","scale":{"domain":[-249.1,2844.8],"nice":false,"zero":false},"axis":null},"y":{"datum":-51,"type":"quantitative","scale":{"domain":[-291,2904],"nice":false,"zero":false},"axis":null},"text":{"field":"label"}}},

{"data":{"name":"caption"},"transform":[{"filter":"datum.style === 'label'"}],
 "mark":{"type":"text","align":"left","baseline":"middle","font":"Open Sans","fontWeight":"bold","fontSize":26,"color":"#c0272d"},
 "encoding":{"x":{"field":"start","type":"nominal","scale":{"type":"point","domain":["margin","after label"],"range":[0,113],"padding":0},"axis":null},
 "y":{"field":"line","type":"ordinal","scale":{"type":"point","domain":[1,2,3,4,5],"range":[1086,1203],"padding":0},"axis":null},"text":{"field":"text"}}},
{"data":{"name":"caption"},"transform":[{"filter":"datum.style === 'body'"}],
 "mark":{"type":"text","align":"left","baseline":"middle","font":"Lato","fontSize":20.3,"color":"#1a1a1a"},
 "encoding":{"x":{"field":"start","type":"nominal","scale":{"type":"point","domain":["margin","after label"],"range":[0,113],"padding":0},"axis":null},
 "y":{"field":"line","type":"ordinal","scale":{"type":"point","domain":[1,2,3,4,5],"range":[1086,1203],"padding":0},"axis":null},"text":{"field":"text"}}}
]
}
